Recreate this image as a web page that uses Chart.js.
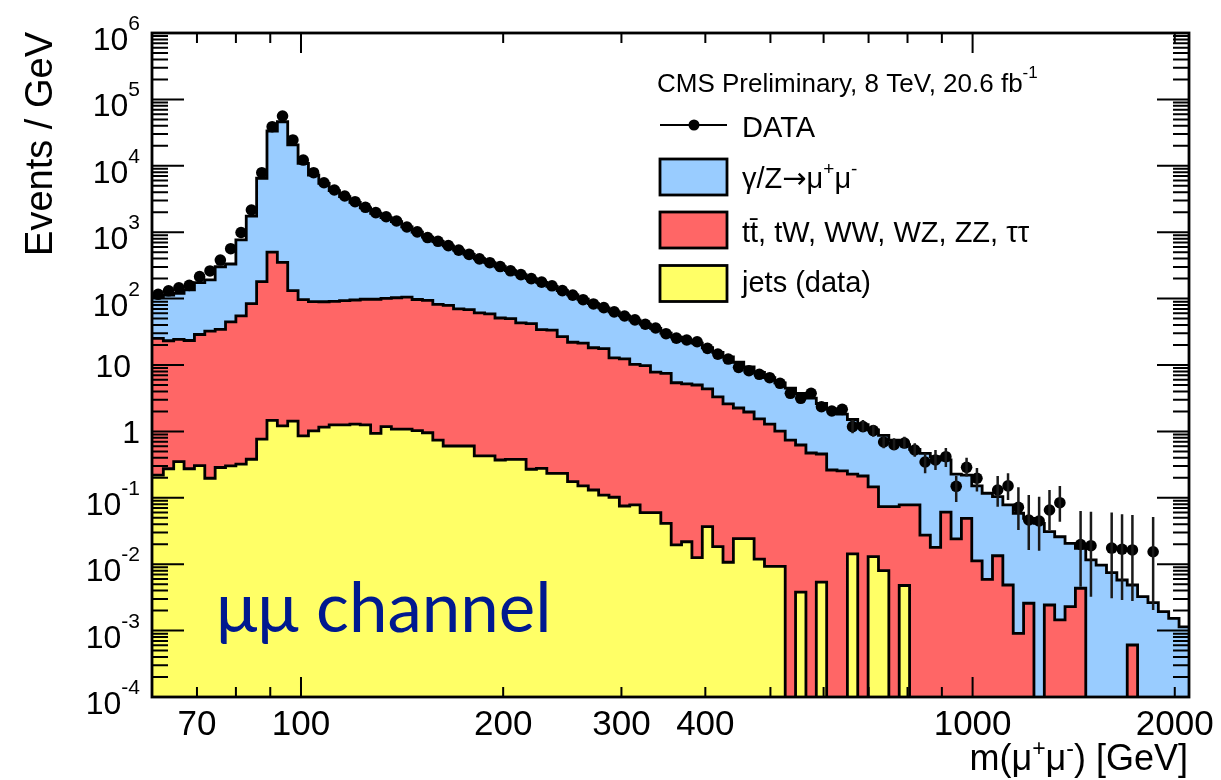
<!DOCTYPE html>
<html>
<head>
<meta charset="utf-8">
<script src="https://cdn.jsdelivr.net/npm/chart.js@4.4.1/dist/chart.umd.min.js"></script>
<style>
  html, body { margin: 0; padding: 0; background: #fff; }
  #wrap { width: 1221px; height: 780px; position: relative; }
</style>
</head>
<body>
<div id="wrap"><canvas id="myChart"></canvas></div>
<script>
// 100 log-spaced mass bins
var firstEdge = 60.2, lastEdge = 2103, nBins = 100;
var binEdges = [];
for (var k = 0; k <= nBins; k++) binEdges.push(firstEdge * Math.pow(lastEdge / firstEdge, k / nBins));
var binCenters = [];
for (var k = 0; k < nBins; k++) binCenters.push(Math.sqrt(binEdges[k] * binEdges[k + 1]));

// observed events / GeV (null = empty bin)
var dataEvents = [
  116, 131, 145, 158, 214, 261, 381, 564, 990, 2160,
  7870, 38800, 56200, 24500, 12200, 7870, 5560, 4320, 3510, 2880,
  2370, 1970, 1710, 1475, 1197, 1012, 830, 730, 627, 537,
  463, 397, 347, 304, 262, 230, 200, 177, 156, 132,
  113, 96.2, 83.0, 73.1, 63.2, 54.7, 47.8, 41.1, 36.1, 29.6,
  25.4, 23.8, 22.4, 17.8, 14.6, 12.3, 9.22, 8.20, 7.24, 6.44,
  5.30, 3.75, 3.15, 3.75, 2.35, 2.03, 2.15, 1.18, 1.18, 1.03,
  0.692, 0.631, 0.668, 0.525, 0.346, 0.371, 0.416, 0.149, 0.288, 0.197,
  null, 0.131, 0.151, 0.072, 0.0463, 0.0447, 0.0655, 0.0844, null, 0.0198,
  0.0190, null, 0.0175, 0.0168, 0.0164, null, 0.0154, null, null, null
];
// visible error bars
var errBins = [67, 68, 69, 70, 71, 72, 73, 74, 75, 76, 77, 78, 79, 81, 82, 83, 84, 85, 86, 87, 89, 90, 92, 93, 94, 96];
var errHigh = [1.49, 1.49, 1.25, 0.832, 0.79, 0.83, 0.662, 0.468, 0.525, 0.56, 0.214, 0.40, 0.28, 0.213, 0.234, 0.144, 0.110, 0.104, 0.131, 0.151, 0.063, 0.0618, 0.0600, 0.0567, 0.0552, 0.0515];
var errLow  = [0.936, 0.99, 0.832, 0.557, 0.525, 0.557, 0.416, 0.234, 0.262, 0.29, 0.0868, 0.21, 0.124, 0.0735, 0.0927, 0.0327, 0.0164, 0.0160, 0.0327, 0.0437, 0.00458, 0.00324, 0.00307, 0.0029, 0.0028, 0.00204];

// stacked histogram tops (events / GeV)
var totalMC = [
  105, 113, 120, 135, 174, 191, 302, 332, 764, 1750,
  6490, 33400, 46100, 20600, 10900, 7260, 5430, 4220, 3430, 2820,
  2320, 1930, 1660, 1445, 1202, 1000, 841, 724, 624, 537,
  462, 398, 347, 302, 263, 229, 200, 176, 153, 132,
  114, 97.7, 84.1, 72.4, 63.1, 55.0, 47.3, 41.2, 35.5, 30.2,
  26.3, 23.4, 21.4, 18.2, 15.5, 13.2, 11.0, 9.33, 7.76, 6.46,
  5.37, 4.47, 3.72, 3.16, 2.63, 2.19, 1.82, 1.51, 1.26, 1.05,
  0.871, 0.741, 0.631, 0.537, 0.468, 0.417, 0.371, 0.228, 0.220, 0.151,
  0.117, 0.104, 0.078, 0.0585, 0.0491, 0.0413, 0.0309, 0.0259, 0.0206, 0.0173,
  0.0116, 0.0097, 0.00745, 0.00578, 0.00486, 0.00324, 0.00263, 0.00193, 0.00153, 0.00114
];
var otherStack = [
  25.1, 23.2, 24.3, 23.4, 28.8, 32.4, 34.3, 44.7, 55.0, 84.1,
  180, 501, 351, 132, 96.6, 90.2, 89.7, 90.8, 92.9, 95.3,
  97.7, 97.7, 101, 103, 105, 97, 94, 82, 79, 70,
  68, 61, 59, 51, 50, 43, 42, 34, 33.4, 26.7,
  22, 21.4, 18.2, 17.6, 12.8, 12.4, 10.2, 9.8, 7.8, 7.5,
  5.4, 5.2, 5.0, 4.36, 3.30, 2.59, 2.25, 1.96, 1.54, 1.29,
  1.01, 0.741, 0.624, 0.473, 0.457, 0.262, 0.254, 0.228, 0.213, 0.146,
  0.0735, 0.0735, 0.078, 0.078, 0.0275, 0.0179, 0.0607, 0.0240, 0.0491, 0.0112,
  0.0059, 0.0134, 0.00486, 0.00091, 0.00258, 0, 0.00243, 0.00145, 0.00229, 0.00434,
  0, 0, 0, 0, 0.000607, 0, 0, 0, 0, 0
];
var jetsStack = [
  0.220, 0.274, 0.350, 0.274, 0.306, 0.197, 0.286, 0.303, 0.321, 0.381,
  0.764, 1.47, 1.21, 1.43, 0.859, 1.02, 1.16, 1.25, 1.25, 1.29,
  1.25, 0.935, 1.18, 1.08, 1.08, 1.03, 0.955, 0.741, 0.603, 0.603,
  0.603, 0.427, 0.427, 0.371, 0.380, 0.380, 0.269, 0.278, 0.234, 0.234,
  0.175, 0.151, 0.131, 0.110, 0.102, 0.0753, 0.078, 0.0597, 0.0597, 0.0413,
  0.0195, 0.0218, 0.0126, 0.0367, 0.0184, 0.0107, 0.0242, 0.0242, 0.0119, 0.00929,
  0.00929, 0, 0.00381, 0, 0.00536, 0, 0, 0.0143, 0, 0.0130,
  0.00798, 0, 0.00478, 0, 0, 0, 0, 0, 0, 0,
  0, 0, 0, 0, 0, 0, 0, 0, 0, 0,
  0, 0, 0, 0, 0, 0, 0, 0, 0, 0
];

var xTickLabels = [70, 100, 200, 300, 400, 1000, 2000];
var yTickExps = [-4, -3, -2, -1, 0, 1, 2, 3, 4, 5, 6];

var BLUE = '#99ccff', RED = '#ff6666', YELLOW = '#ffff66';
var FONT = '"Liberation Sans", Helvetica, Arial, sans-serif';
var belowAxis = 1e-9;

function stepPoints(vals) {
  var pts = [];
  for (var k = 0; k < nBins; k++) pts.push({ x: binEdges[k], y: vals[k] > 0 ? vals[k] : belowAxis });
  pts.push({ x: binEdges[nBins], y: pts[nBins - 1].y });
  return pts;
}
var dataPts = [];
dataEvents.forEach(function (v, k) { if (v !== null) dataPts.push({ x: binCenters[k], y: v }); });

function histSet(label, vals, color, order) {
  return {
    label: label, data: stepPoints(vals), stepped: 'before',
    borderColor: '#000', borderWidth: 2.8, backgroundColor: color,
    fill: 'start', pointRadius: 0, order: order
  };
}

function drawParts(ctx, parts, x, y, align) {
  var w = 0, i;
  for (i = 0; i < parts.length; i++) {
    ctx.font = parts[i].font;
    parts[i].w = ctx.measureText(parts[i].text).width;
    w += parts[i].w;
  }
  var cx = align === 'right' ? x - w : (align === 'center' ? x - w / 2 : x);
  ctx.textAlign = 'left';
  ctx.textBaseline = 'alphabetic';
  for (i = 0; i < parts.length; i++) {
    ctx.font = parts[i].font;
    ctx.fillText(parts[i].text, cx, y + (parts[i].dy || 0));
    cx += parts[i].w;
  }
}

var cmsDecor = {
  id: 'cmsDecor',
  afterDatasetsDraw: function (chart) {
    var ctx = chart.ctx, a = chart.chartArea;
    var xs = chart.scales.x, ys = chart.scales.y;
    ctx.save();
    ctx.strokeStyle = '#000';
    ctx.fillStyle = '#000';

    // data error bars
    ctx.lineWidth = 2.5;
    ctx.strokeStyle = '#1a1a1a';
    ctx.beginPath();
    errBins.forEach(function (k, i) {
      var px = xs.getPixelForValue(binCenters[k]);
      ctx.moveTo(px, ys.getPixelForValue(errHigh[i]));
      ctx.lineTo(px, ys.getPixelForValue(errLow[i]));
    });
    ctx.stroke();
    ctx.strokeStyle = '#000';

    // ticks on all four sides
    ctx.lineWidth = 2;
    ctx.beginPath();
    for (var e = -4; e <= 6; e++) {
      for (var m = 1; m <= 9; m++) {
        var v = m * Math.pow(10, e);
        if (v > 1.0001e6) break;
        var py = ys.getPixelForValue(v);
        var len = m === 1 ? 32 : 16;
        ctx.moveTo(a.left, py); ctx.lineTo(a.left + len, py);
        ctx.moveTo(a.right, py); ctx.lineTo(a.right - len, py);
      }
    }
    [10, 100, 1000].forEach(function (d) {
      for (var m = 1; m <= 9; m++) {
        var v = m * d;
        if (v < 60 || v > 2100) continue;
        var px = xs.getPixelForValue(v);
        var len = m === 1 ? 20 : 10;
        ctx.moveTo(px, a.bottom); ctx.lineTo(px, a.bottom - len);
        ctx.moveTo(px, a.top); ctx.lineTo(px, a.top + len);
      }
    });
    ctx.stroke();
    ctx.lineWidth = 2.8;
    ctx.strokeRect(a.left, a.top, a.right - a.left, a.bottom - a.top);

    // y tick labels
    var base = '32px ' + FONT, sup = '21px ' + FONT;
    yTickExps.forEach(function (e) {
      var py = ys.getPixelForValue(Math.pow(10, e));
      if (e === 0) drawParts(ctx, [{ text: '1', font: base }], 140, py + 12, 'right');
      else if (e === 1) drawParts(ctx, [{ text: '10', font: base }], 131, py + 12, 'right');
      else drawParts(ctx, [{ text: '10', font: base }, { text: String(e), font: sup, dy: -20 }], 140, py + 17, 'right');
    });
    // x tick labels
    xTickLabels.forEach(function (v) {
      drawParts(ctx, [{ text: String(v), font: '35px ' + FONT }], xs.getPixelForValue(v), 735, 'center');
    });
    // axis titles
    var tf = '36px ' + FONT, ts = '23px ' + FONT;
    drawParts(ctx, [
      { text: 'm(\u03bc', font: tf }, { text: '+', font: ts, dy: -14 },
      { text: '\u03bc', font: tf }, { text: '-', font: ts, dy: -14 },
      { text: ') [GeV]', font: tf }
    ], 1188, 770, 'right');
    ctx.save();
    ctx.translate(52, 32);
    ctx.rotate(-Math.PI / 2);
    ctx.font = '38px ' + FONT;
    ctx.textAlign = 'right';
    ctx.textBaseline = 'alphabetic';
    ctx.fillText('Events / GeV', 0, 0);
    ctx.restore();

    // legend
    drawParts(ctx, [{ text: 'CMS Preliminary, 8 TeV, 20.6 fb', font: '26px ' + FONT },
      { text: '-1', font: '17px ' + FONT, dy: -14 }], 657, 91.5, 'left');
    ctx.lineWidth = 2;
    ctx.beginPath(); ctx.moveTo(660, 125); ctx.lineTo(727, 125); ctx.stroke();
    ctx.beginPath(); ctx.arc(694, 125, 5.5, 0, Math.PI * 2); ctx.fill();
    var lf = '29px ' + FONT, ls = '19px ' + FONT;
    drawParts(ctx, [{ text: 'DATA', font: lf }], 742, 136.5, 'left');
    [[BLUE, 159], [RED, 212], [YELLOW, 265.5]].forEach(function (b) {
      ctx.fillStyle = b[0];
      ctx.fillRect(660, b[1], 67, 36);
      ctx.lineWidth = 2.8;
      ctx.strokeRect(660, b[1], 67, 36);
    });
    ctx.fillStyle = '#000';
    drawParts(ctx, [{ text: '\u03b3/Z', font: lf }, { text: '\u2192', font: '29px "DejaVu Sans", sans-serif' },
      { text: '\u03bc', font: lf }, { text: '+', font: ls, dy: -13 },
      { text: '\u03bc', font: lf }, { text: '-', font: ls, dy: -13 }], 742, 188, 'left');
    drawParts(ctx, [{ text: 'tt\u0304, tW, WW, WZ, ZZ, \u03c4\u03c4', font: lf }], 742, 242, 'left');
    drawParts(ctx, [{ text: 'jets (data)', font: lf }], 742, 292, 'left');

    // channel label
    ctx.fillStyle = '#00198f';
    drawParts(ctx, [{ text: '\u03bc\u03bc channel', font: '69px Lato, "Open Sans", sans-serif' }], 216, 632, 'left');
    ctx.restore();
  }
};

var ctx = document.getElementById('myChart').getContext('2d');
var myChart = new Chart(ctx, {
  type: 'line',
  data: {
    datasets: [
      {
        label: 'DATA', data: dataPts, showLine: false,
        pointRadius: 5.8, pointHoverRadius: 5.8, pointBackgroundColor: '#000',
        pointBorderColor: '#000', pointBorderWidth: 0, borderColor: '#000', fill: false, order: 0
      },
      histSet('jets (data)', jetsStack, YELLOW, 1),
      histSet('tt, tW, WW, WZ, ZZ, tautau', otherStack, RED, 2),
      histSet('gamma/Z -> mumu', totalMC, BLUE, 3)
    ]
  },
  options: {
    responsive: true,
    maintainAspectRatio: false,
    animation: false,
    events: [],
    layout: { padding: { top: 33, right: 32, left: 0, bottom: 0 } },
    plugins: { legend: { display: false }, tooltip: { enabled: false } },
    scales: {
      x: {
        type: 'logarithmic', min: 60, max: 2100,
        grid: { display: false }, border: { display: false },
        ticks: { display: false },
        afterFit: function (s) { s.height = 83; }
      },
      y: {
        type: 'logarithmic', min: 1e-4, max: 1e6,
        grid: { display: false }, border: { display: false },
        ticks: { display: false },
        afterFit: function (s) { s.width = 152; }
      }
    }
  },
  plugins: [cmsDecor]
});
</script>
</body>
</html>
